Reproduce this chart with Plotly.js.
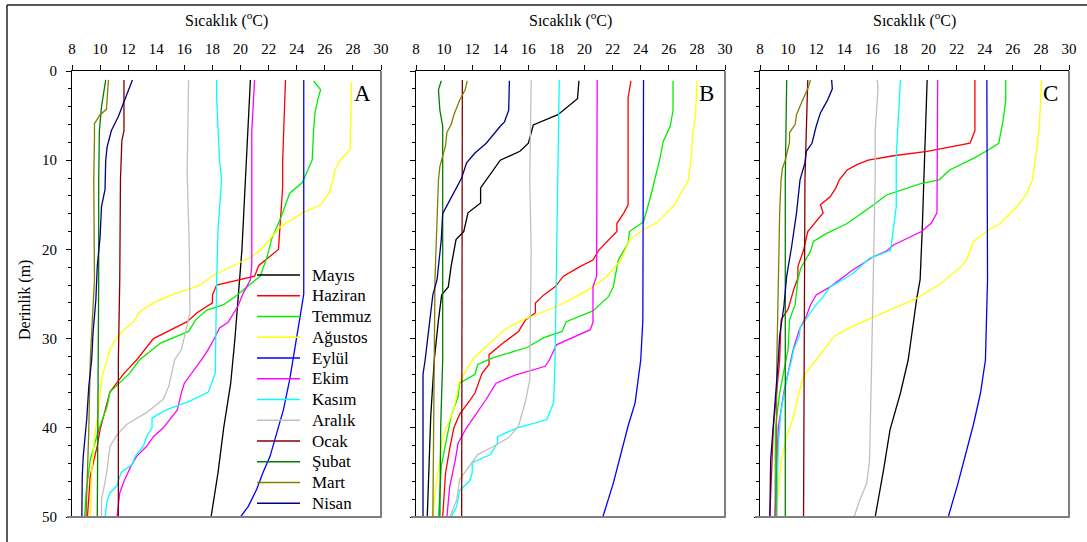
<!DOCTYPE html>
<html>
<head>
<meta charset="utf-8">
<script src="https://cdn.plot.ly/plotly-3.0.1.min.js"></script>
<style>
@font-face { font-family: 'SerifX'; src: local('Liberation Serif'), local('LiberationSerif'), local('LiberationSerif-Regular'), local('Times New Roman'), local('DejaVu Serif'), local('DejaVuSerif'); }
html,body{margin:0;padding:0;background:#fff;}
#plot{width:1087px;height:542px;position:relative;}
#fontwarm{position:absolute;left:0;top:0;visibility:hidden;font-size:16px;white-space:nowrap;}
</style>
</head>
<body>
<div id="fontwarm"><span style="font-family:'Liberation Serif'">Aa</span><span style="font-family:SerifX">Aa</span><span style="font-family:serif">Aa</span></div>
<div id="plot"></div>
<script>
// ---------- DATA (depth in m, temperature in °C) ----------
const months = ["Mayıs","Haziran","Temmuz","Ağustos","Eylül","Ekim","Kasım","Aralık","Ocak","Şubat","Mart","Nisan"];
const panelLabels = ["A","B","C"];
const xTicks = [8,10,12,14,16,18,20,22,24,26,28,30];
const yTicks = [0,10,20,30,40,50];

// Panel A
const dA_mayis = [1,10,20,30,35,40,45,50];
const tA_mayis = [20.7,20.4,20.1,19.6,19.3,18.8,18.4,17.9];
const dA_haziran = [1,10,13,20,21.8,23,24,25.1,26,27.1,28.1,30,32.4,33.9,36,38.3,40.2,42,45.4,50];
const tA_haziran = [23.2,23.0,23.0,22.7,21.3,21.0,18.3,18.0,18.0,16.9,16.2,13.8,12.6,11.7,10.7,10.3,10.0,9.8,9.3,9.1];
const dA_temmuz = [1.1,2.1,3.2,4.7,6.7,10,11.4,12.5,13.7,16.3,18.9,20.8,23,24.2,25.3,26.2,26.8,27.9,29.2,30.5,32.4,33.9,36,37.6,40.2,43.6,47.3,50];
const tA_temmuz = [25.2,25.7,25.5,25.3,25.2,25.1,24.7,24.4,23.5,22.9,22.2,21.9,21.4,20.5,19.6,18.8,17.6,16.8,16.3,14.3,12.8,12.1,10.7,10.5,9.9,9.3,9.0,8.9];
const dA_agustos = [1.2,8.8,10,11.1,12.2,13.7,15,15.9,17.5,20,20.8,21.8,22.9,24.1,25.1,26,27,28.1,29,30.1,31.2,32.4,33.9,36,38,41,45,50];
const tA_agustos = [27.9,27.8,27.1,26.7,26.6,26.3,25.7,24.4,22.8,21.5,20.8,19.5,18.1,17.0,15.1,13.8,12.8,12.4,11.7,11.1,10.7,10.5,10.2,10.0,9.9,9.6,9.4,9.3];
const dA_eylul = [1,25,26,32.4,34.6,38,40.6,43.2,45,46.9,48.8,50];
const tA_eylul = [24.5,24.5,24.4,23.75,23.5,23.05,22.6,22.1,21.6,21.15,20.55,20.0];
const dA_ekim = [1,6.7,21.8,23.4,24.9,26.4,28.2,28.8,30.1,31.2,32.4,33.9,35,36,38,40,41,42.1,43.2,44.3,46,47.3,50];
const tA_ekim = [21.0,20.8,20.8,20.7,20.2,19.8,19.1,18.5,18.1,17.7,17.2,16.5,16.0,15.8,15.5,14.5,13.8,13.3,12.6,12.2,11.7,11.4,11.2];
const dA_kasim = [1,3,6.7,10,12.2,17.8,23.4,32.4,33.9,36,37,38,38.9,40,41,42,43.2,44.1,45,46.5,47.3,48.2,50];
const tA_kasim = [18.3,18.3,18.4,18.5,18.65,18.4,18.3,18.25,18.2,17.7,16.4,14.7,13.7,13.7,13.3,13.1,12.5,12.3,11.5,11.2,10.7,10.5,10.35];
const dA_aralik = [1,11.4,19.7,27.1,29.8,31.2,32.4,33.9,35.3,36.8,38.3,39.6,40.8,42.1,44.7,46.5,48,50];
const tA_aralik = [16.3,16.2,16.35,16.4,16.0,15.8,15.3,15.1,14.9,14.5,13.3,11.9,11.2,10.7,10.5,10.3,10.1,10.1];
const dA_ocak = [1,6.7,7.8,12.2,23.4,32.4,50];
const tA_ocak = [11.7,11.7,11.55,11.45,11.4,11.3,11.3];
const dA_subat = [1,4,6.7,12.2,23.4,40,50];
const tA_subat = [10.4,10.1,9.95,9.9,9.9,9.85,9.8];
const dA_mart = [1,4,4.3,4.9,5.9,7.6,12.2,23.4,30.1,32.4,40,50];
const tA_mart = [10.6,10.5,10.45,10.0,9.6,9.6,9.55,9.6,9.4,9.3,9.2,9.0];
const dA_nisan = [1,2.3,3.6,5.1,6.7,8.5,10,12.2,13.3,15.2,18.6,21.9,25.6,29.3,32.4,35.3,39,43.2,45.5,50];
const tA_nisan = [12.3,12.0,11.7,11.3,10.8,10.5,10.4,10.4,10.35,10.1,10.0,9.8,9.7,9.5,9.4,9.2,9.05,8.8,8.73,8.7];

// Panel B
const dB_mayis = [1.1,3.1,4.9,6.05,8.1,9.0,10,12.2,13.1,14.8,15.9,18.0,18.9,21.9,24.2,25.1,27.9,32.4,38.7,50];
const tB_mayis = [19.6,19.5,18.1,16.35,16.0,15.4,14.0,13.0,12.6,12.6,11.7,11.4,10.85,10.5,10.3,9.83,9.6,9.3,9.05,8.8];
const dB_haziran = [1.1,3,12.2,15,15.9,17.1,18,20.1,21.2,21.9,23,24.2,25.1,26,27.1,27.9,29.2,30.5,31.8,32.9,33.9,36.1,37,38.5,40,42.3,45.1,50];
const tB_haziran = [23.3,23.1,23.1,23.1,22.8,22.3,22.3,21.0,20.6,19.7,18.5,17.9,17.1,16.5,16.5,15.8,15.3,14.2,13.2,13.2,12.7,12.2,11.8,11.1,10.7,10.4,10.1,9.9];
const dB_temmuz = [1.1,4.4,6.2,7.9,9.6,12.2,14.1,16.9,18,19.3,21.2,24.2,25.3,26.9,28.1,29.2,29.9,31,32.2,32.9,34,35,36.5,38.7,41,44.3,50];
const tB_temmuz = [26.3,26.3,26.1,25.6,25.4,25.0,24.7,24.2,23.2,23.1,22.4,22.05,21.7,20.6,18.7,18.4,17.1,15.9,13.4,12.4,12.2,11.1,11.0,10.5,10.2,9.8,9.6];
const dB_agustos = [1.1,5.1,6.9,9.6,12.2,15,17.05,17.8,18.9,21.2,23,24.2,25.3,26.4,27.3,27.9,29,30.5,32.2,34.8,37.9,41,43.6,47.3,50];
const tB_agustos = [28.0,27.9,27.7,27.6,27.4,26.4,25.1,24.2,23.2,22.6,21.6,20.6,19.4,18.0,16.6,15.6,14.3,13.3,12.1,11.1,10.7,9.9,9.7,9.35,9.2];
const dB_eylul = [1,12.2,23.4,28,32.4,34.6,37.2,39.8,42.8,46.2,50];
const tB_eylul = [24.2,24.2,24.2,24.15,24.0,23.8,23.6,23.1,22.6,22.05,21.3];
const dB_ekim = [1,12.2,23,24.2,28.2,29,30.7,32.4,33.1,34.1,35,36.8,38.7,40,41.7,43.6,46.6,50];
const tB_ekim = [20.9,20.9,20.86,20.6,20.6,20.4,18.0,17.5,17.2,15.05,13.7,13.0,12.2,11.6,11.0,10.8,10.4,10.2];
const dB_kasim = [1,12.2,32.4,37.2,39.1,40,41,41.7,43,43.9,45.1,46,47,48.8,50];
const tB_kasim = [18.2,18.1,17.9,17.8,17.3,15.2,13.8,13.8,13.3,12.0,12.0,11.8,11.1,10.9,10.5];
const dB_aralik = [1,12.2,20,32.4,34.6,37,39.8,41.1,42.1,43,44.3,45.8,48.1,50];
const tB_aralik = [16.2,16.1,16.2,16.1,16.1,15.8,15.3,14.6,13.5,12.4,11.8,11.1,10.9,10.4];
const dB_ocak = [1,25,50];
const tB_ocak = [11.3,11.3,11.25];
const dB_subat = [1.1,2.1,4.4,6.2,12.2,32.4,39.8,50];
const tB_subat = [9.8,9.6,9.7,9.9,9.9,9.9,9.76,9.7];
const dB_mart = [1.1,2.1,3.3,4.9,6.0,6.9,8.4,10.7,12.2,17.8,23.4,32.4,50];
const tB_mart = [11.65,11.5,11.1,10.7,10.5,10.2,10.1,9.7,9.6,9.5,9.35,9.3,9.2];
const dB_nisan = [1.1,4.4,5.7,6.2,8.1,9.2,10.3,12.0,14.5,16,18.9,23.4,25.1,29.4,32.4,34,39.8,50];
const tB_nisan = [14.65,14.6,14.3,14.0,13.0,12.2,11.6,11.25,10.4,9.9,9.8,9.5,9.2,8.9,8.65,8.5,8.5,8.5];

// Panel C
const dC_mayis = [1,12.2,17.8,23.4,25.6,32.4,36.1,40.2,44.7,50];
const tC_mayis = [19.9,19.7,19.55,19.4,19.15,18.55,18.0,17.26,16.8,16.2];
const dC_haziran = [1,6.7,8.1,9.0,9.5,10.0,10.5,11.1,12.2,13.1,14.1,15.0,15.9,16.9,18.0,20.1,21.9,23.2,24.5,26.7,27.9,32.4,40,50];
const tC_haziran = [23.3,23.3,22.95,19.9,17.5,15.7,14.9,14.2,13.65,13.4,13.0,12.3,12.5,12.0,11.4,11.1,10.7,10.7,10.4,10.0,9.5,9.4,8.95,8.7];
const dC_temmuz = [1,3.3,5.6,8.1,9,9.8,11.1,12.2,12.6,13.9,15,17.1,18.2,19.1,20.2,22.1,23.4,26.2,27.9,31.2,32.4,36.1,40,50];
const tC_temmuz = [25.5,25.5,25.3,25.0,24.1,23.2,21.5,20.75,19.5,17.0,16.1,14.2,12.75,11.8,11.6,10.9,10.7,10.5,10.1,10.0,9.85,9.4,9.1,9.07];
const dC_agustos = [1,5.9,8.8,12.2,13.7,15.2,17.1,17.8,19.1,21.2,22.1,23.9,25.5,27.1,28.6,29.7,32.4,34.2,36.5,38.7,41,44,47.3,50];
const tC_agustos = [28.05,27.9,27.7,27.4,27.0,26.3,25.1,24.3,23.2,22.7,22.2,20.8,19.15,16.8,14.6,13.3,12.0,11.1,10.7,10.4,9.9,9.5,9.3,9.2];
const dC_eylul = [1,23.4,32.4,36.1,39.6,42.7,46.2,50];
const tC_eylul = [24.15,24.2,24.05,23.7,23.2,22.7,22.1,21.4];
const dC_ekim = [1,12.2,15.9,17.05,18,19.5,20.2,20.8,22.3,24.2,25.1,26.2,27.5,28.8,31,32.4,36,40,50];
const tC_ekim = [20.65,20.6,20.6,20.2,19.5,17.5,17.0,16.1,14.6,13.0,12.0,11.6,11.3,10.85,10.4,10.2,9.7,9.3,9.07];
const dC_kasim = [1,9.6,15.2,17.8,19.1,20.1,21,22.7,23.4,24.2,25.1,26.2,27.1,28.8,29.7,31.2,32.4,33.9,38,42,50];
const tC_kasim = [18.0,17.7,17.7,17.5,17.4,17.3,15.8,14.6,13.9,13.0,12.6,12.0,11.6,10.85,10.8,10.4,10.25,10.0,9.5,9.3,9.2];
const dC_aralik = [1,2,6.7,12.2,32.4,36,43.6,46.2,48.1,50];
const tC_aralik = [16.35,16.4,16.2,16.2,15.95,15.9,15.8,15.6,15.1,14.7];
const dC_ocak = [1,12.2,50];
const tC_ocak = [11.4,11.2,11.1];
const dC_subat = [1,12.2,50];
const tC_subat = [9.9,9.8,9.8];
const dC_mart = [1,2,3.4,4.9,6,6.9,8,10,10.9,12.2,15.9,27.1,32.4,50];
const tC_mart = [11.6,11.4,11.0,10.6,10.5,10.1,10.1,9.8,9.6,9.5,9.4,9.3,9.2,9.14];
const dC_nisan = [1,2,3.3,4.7,6.2,8.1,9,10.3,12.2,15.9,19.7,23,26.4,29.7,32.4,40,43.6,50];
const tC_nisan = [13.1,13.15,12.8,12.3,12.0,11.7,11.3,11.2,10.85,10.6,10.25,9.9,9.7,9.4,9.3,8.95,8.76,8.7];

// ---------- STYLE / BUILD ----------
const colors = ["#000000","#ff0000","#00ee00","#ffff00","#0000ff","#ff00ff","#00ffff","#c0c0c0","#800000","#008000","#808000","#000080"];
const panels = [
  [[dA_mayis,tA_mayis],[dA_haziran,tA_haziran],[dA_temmuz,tA_temmuz],[dA_agustos,tA_agustos],[dA_eylul,tA_eylul],[dA_ekim,tA_ekim],[dA_kasim,tA_kasim],[dA_aralik,tA_aralik],[dA_ocak,tA_ocak],[dA_subat,tA_subat],[dA_mart,tA_mart],[dA_nisan,tA_nisan]],
  [[dB_mayis,tB_mayis],[dB_haziran,tB_haziran],[dB_temmuz,tB_temmuz],[dB_agustos,tB_agustos],[dB_eylul,tB_eylul],[dB_ekim,tB_ekim],[dB_kasim,tB_kasim],[dB_aralik,tB_aralik],[dB_ocak,tB_ocak],[dB_subat,tB_subat],[dB_mart,tB_mart],[dB_nisan,tB_nisan]],
  [[dC_mayis,tC_mayis],[dC_haziran,tC_haziran],[dC_temmuz,tC_temmuz],[dC_agustos,tC_agustos],[dC_eylul,tC_eylul],[dC_ekim,tC_ekim],[dC_kasim,tC_kasim],[dC_aralik,tC_aralik],[dC_ocak,tC_ocak],[dC_subat,tC_subat],[dC_mart,tC_mart],[dC_nisan,tC_nisan]]
];

const W = 1087, H = 542;
const FONT = "Liberation Serif, SerifX, DejaVu Serif, serif";
const xPix = [[72,381],[416,725],[760,1069]];
const yTopPx = 71, yBotPx = 517;
const ydom = [1 - yBotPx/H, 1 - yTopPx/H];

const traces = [];
panels.forEach((p, pi) => {
  const sfx = pi === 0 ? "" : String(pi+1);
  p.forEach((s, si) => {
    traces.push({
      x: s[1], y: s[0], type: "scatter", mode: "lines",
      name: months[si], showlegend: false,
      xaxis: "x" + sfx, yaxis: "y" + sfx,
      line: {color: colors[si], width: 1.3},
      hoverinfo: "skip"
    });
  });
});

const layout = {
  width: W, height: H,
  margin: {l:0, r:0, t:0, b:0},
  paper_bgcolor: "#fff", plot_bgcolor: "rgba(0,0,0,0)",
  font: {family: FONT, color: "#000", size: 15},
  showlegend: false,
  annotations: [], shapes: []
};

xPix.forEach((xp, pi) => {
  const sfx = pi === 0 ? "" : String(pi+1);
  layout["xaxis" + sfx] = {
    domain: [xp[0]/W, xp[1]/W], anchor: "y" + sfx, side: "top",
    range: [8, 30], tickvals: xTicks, ticks: "outside", ticklen: 5, tickwidth: 1, tickcolor: "#000",
    showline: true, linecolor: "#000", linewidth: 1, showgrid: false, zeroline: false,
    tickfont: {family: FONT, size: 15, color: "#000"}, ticklabelstandoff: 5, fixedrange: true
  };
  layout["yaxis" + sfx] = {
    domain: ydom, anchor: "x" + sfx,
    range: [50, 0], tickvals: yTicks, ticks: "outside", ticklen: 5, tickwidth: 1, tickcolor: "#000",
    minor: {dtick: 2, tick0: 0, ticks: "outside", ticklen: 3, tickcolor: "#000", showgrid: false},
    showline: true, linecolor: "#000", linewidth: 1, showgrid: false, zeroline: false,
    showticklabels: pi === 0, tickfont: {family: FONT, size: 15, color: "#000"}, ticklabelstandoff: 6, fixedrange: true
  };
  layout.annotations.push({
    xref: "paper", yref: "paper", x: (xp[0]+xp[1])/2/W, y: 1 - 20/H, xanchor: "center", yanchor: "middle",
    text: "Sıcaklık (<sup>o</sup>C)", showarrow: false, font: {family: FONT, size: 16, color: "#000"}
  });
  layout.annotations.push({
    xref: "paper", yref: "paper", x: (xp[1]-19)/W, y: 1 - 93/H, xanchor: "center", yanchor: "middle",
    text: panelLabels[pi], showarrow: false, font: {family: FONT, size: 23, color: "#000"}
  });
  layout.shapes.push({type: "line", xref: "paper", yref: "paper", x0: xp[1]/W, x1: xp[1]/W, y0: ydom[0], y1: ydom[1], line: {color: "#808080", width: 2}});
  layout.shapes.push({type: "line", xref: "paper", yref: "paper", x0: (xp[0]-5)/W, x1: (xp[1]+1)/W, y0: ydom[0], y1: ydom[0], line: {color: "#808080", width: 2}});
});

// manual legend inside panel A
const legTop = 275, legStep = 20.75, legX0 = 257, legX1 = 300, legTextX = 310;
months.forEach((m, i) => {
  const yp = 1 - (legTop + i*legStep)/H;
  layout.shapes.push({type: "line", xref: "paper", yref: "paper", x0: legX0/W, x1: legX1/W, y0: yp, y1: yp, line: {color: colors[i], width: 1.3}});
  layout.annotations.push({
    xref: "paper", yref: "paper", x: legTextX/W, y: yp, xanchor: "left", yanchor: "middle",
    text: m, showarrow: false, font: {family: FONT, size: 17, color: "#000"}
  });
});

layout.annotations.push({
  xref: "paper", yref: "paper", x: 25/W, y: 1 - 300/H, xanchor: "center", yanchor: "middle",
  text: "Derinlik (m)", textangle: -90, showarrow: false, font: {family: FONT, size: 16, color: "#000"}
});
layout.shapes.push({type: "line", xref: "paper", yref: "paper", x0: 7/W, x1: 7/W, y0: 0, y1: 1 - 5/H, line: {color: "#222", width: 1.5}});
layout.shapes.push({type: "line", xref: "paper", yref: "paper", x0: 7/W, x1: 1, y0: 1 - 5/H, y1: 1 - 5/H, line: {color: "#222", width: 1.5}});

Plotly.newPlot("plot", traces, layout, {displayModeBar: false, staticPlot: true});
</script>
</body>
</html>
